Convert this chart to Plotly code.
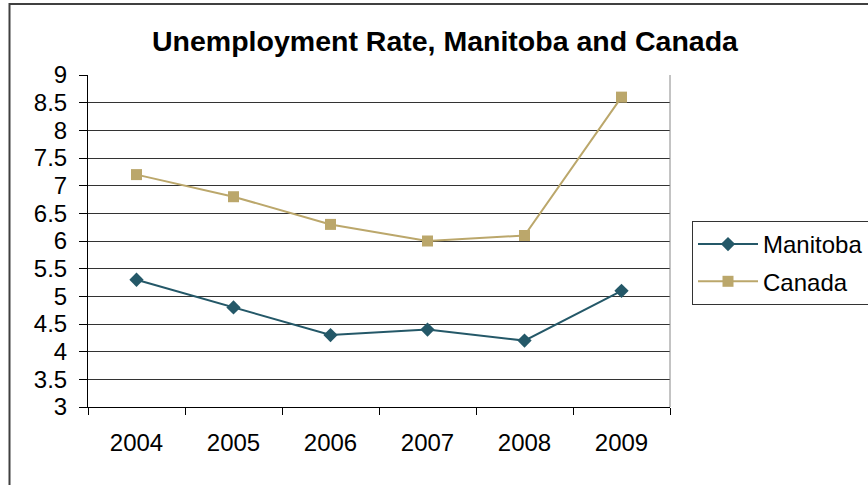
import plotly.graph_objects as go

years = ["2004", "2005", "2006", "2007", "2008", "2009"]
manitoba = [5.3, 4.8, 4.3, 4.4, 4.2, 5.1]
canada = [7.2, 6.8, 6.3, 6.0, 6.1, 8.6]
y_ticks = [3, 3.5, 4, 4.5, 5, 5.5, 6, 6.5, 7, 7.5, 8, 8.5, 9]

FONT = "Liberation Sans, Arial, sans-serif"
MB_COLOR = "#245868"
CA_COLOR = "#BBA76B"

L, R, T, B = 88, 670, 75, 407
W, H = 868, 485
pw, ph = R - L, B - T

def px(x):
    return (x - L) / pw

def py(y):
    return (B - y) / ph

fig = go.Figure()
fig.add_trace(go.Scatter(
    x=years, y=manitoba, name="Manitoba", mode="lines+markers",
    line=dict(color=MB_COLOR, width=2),
    marker=dict(symbol="diamond", size=11, color=MB_COLOR),
    legendgroup="a",
))
fig.add_trace(go.Scatter(
    x=years, y=canada, name="Canada", mode="lines+markers",
    line=dict(color=CA_COLOR, width=2),
    marker=dict(symbol="square", size=11, color=CA_COLOR),
    legendgroup="b",
))

fig.update_layout(
    width=W, height=H,
    margin=dict(l=L, r=W - R, t=T, b=H - B, pad=0, autoexpand=False),
    paper_bgcolor="white", plot_bgcolor="white",
    font=dict(family=FONT, size=24, color="black"),
    title=dict(
        text="<b>Unemployment Rate, Manitoba and Canada</b>",
        font=dict(family=FONT, size=28.5, color="black"),
        x=px(445), xref="paper", xanchor="center",
        y=1 - 41 / H, yref="container", yanchor="middle",
    ),
    xaxis=dict(
        type="category", range=[-0.5, 5.5],
        tickson="boundaries", ticks="outside", ticklen=7, tickwidth=1,
        tickcolor="black", showline=True, linecolor="black", linewidth=1,
        showgrid=False, ticklabelstandoff=14,
        tickfont=dict(size=24),
    ),
    yaxis=dict(
        range=[3, 9], tickvals=y_ticks, ticktext=[f"{v:g}" for v in y_ticks],
        ticks="outside", ticklen=8, tickwidth=1, tickcolor="black",
        showline=True, linecolor="black", linewidth=1,
        showgrid=True, gridcolor="#333333", gridwidth=1,
        zeroline=False, ticklabelstandoff=7,
        tickfont=dict(size=24),
    ),
    legend=dict(
        x=px(692), y=py(221), xanchor="left", yanchor="top",
        bordercolor="#333333", borderwidth=1, bgcolor="white",
        font=dict(size=24), tracegroupgap=3, traceorder="grouped",
        itemwidth=60,
    ),
    showlegend=True,
)

# plot area right border and outer chart border
fig.add_shape(type="line", xref="paper", yref="paper",
              x0=1, x1=1, y0=0, y1=1, line=dict(color="#888888", width=1))
fig.add_shape(type="rect", xref="paper", yref="paper",
              x0=px(9.5), x1=px(900), y0=py(520), y1=py(4),
              line=dict(color="#404040", width=2), layer="below")

fig.write_html("out.html", config={"displayModeBar": False},
               post_script="document.body.style.margin='0';")
